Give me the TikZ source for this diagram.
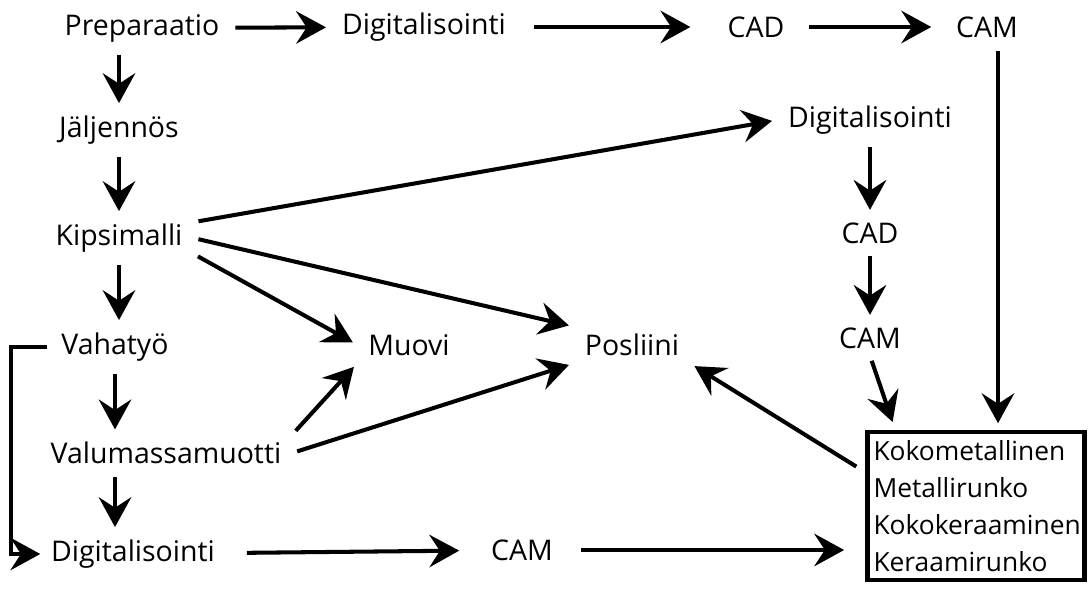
\documentclass[tikz,border=0pt]{standalone}
\usepackage{fontspec}
\setmainfont{Open Sans}
\usetikzlibrary{arrows.meta,calc}

\begin{document}
\begin{tikzpicture}[x=0.02cm,y=-0.02cm,
    lbl/.style={font=\fontsize{16.2}{19}\selectfont,inner xsep=6pt,inner ysep=4pt},
    arr/.style={line width=2.3pt,-{Stealth[length=17pt,width=18.5pt,inset=6pt]},
                shorten >=3pt,shorten <=3pt}]
        \useasboundingbox (0,0) rectangle (1092,590);
        % top row
        \node[lbl] (prep) at (142,28) {Preparaatio};
        \node[lbl] (digA) at (424,27) {Digitalisointi};
        \node[lbl] (cadA) at (756,27) {CAD};
        \node[lbl] (camA) at (987,27) {CAM};
        % left column
        \node[lbl] (jalj) at (119,130) {Jäljennös};
        \node[lbl] (kips) at (119,238) {Kipsimalli};
        \node[lbl] (vaha) at (115,347) {Vahatyö};
        \node[lbl] (valu) at (166,453) {Valumassamuotti};
        \node[lbl] (digC) at (133,554) {Digitalisointi};
        \node[lbl] (camC) at (522,550) {CAM};
        % middle
        \node[lbl] (muovi) at (409,345) {Muovi};
        \node[lbl] (posl) at (632,345) {Posliini};
        % right column
        \node[lbl] (digB) at (870,120) {Digitalisointi};
        \node[lbl] (cadB) at (870,233) {CAD};
        \node[lbl] (camB) at (870,338) {CAM};
        \node[draw,line width=2.6pt,align=left,text width=4.1cm,inner xsep=0.12cm,
              minimum height=2.96cm,font=\fontsize{15}{21}\selectfont] (box) at (976,506)
              {Kokometallinen\\Metallirunko\\Kokokeraaminen\\Keraamirunko};
        \coordinate (camAdown) at (998,40);
        \coordinate (boxtop) at (998,432);
        \coordinate (boxcorner) at (896,432);
        % connectors
        \draw[arr,shorten <=3pt] (prep) -- (digA);
        \draw[arr,shorten <=10pt,shorten >=15pt] (digA) -- (cadA);
        \draw[arr,shorten <=8pt,shorten >=8pt] (cadA) -- (camA);
        \draw[arr,shorten <=6pt,shorten >=5pt] (camAdown) -- (boxtop);
        \draw[arr] (jalj |- prep.south) -- (jalj.north);
        \foreach \a/\b in {jalj/kips,kips/vaha,digB/cadB,cadB/camB}
          \draw[arr] (\a.south) -- (\a.south |- \b.north);
        \draw[arr] (vaha.south) -- (vaha.south |- valu.north);
        \draw[arr] (vaha.south |- valu.south) -- (vaha.south |- digC.north);
        \draw[line width=2.3pt,-{Stealth[length=17pt,width=18.5pt,inset=6pt]},
              shorten <=2pt] (vaha.west) -- ++(-40,0) |- (digC.west);
        \draw[arr] (kips.12) -- (digB.west);
        \draw[arr] (kips.east) -- (posl.north west);
        \draw[arr] (kips.-12) -- (muovi.west);
        \draw[arr] (valu.north east) -- (muovi.south west);
        \draw[arr] (valu.east) -- (posl.south west);
        \draw[arr,shorten >=6pt] (camB.south) -- (boxcorner);
        \draw[arr,shorten <=6pt] (box.163) -- (posl.south east);
        \draw[arr,shorten <=12pt,shorten >=12pt] (digC) -- (camC);
        \draw[arr,shorten <=10pt,shorten >=12pt] (camC) -- (box.west |- camC);
\end{tikzpicture}
\end{document}
